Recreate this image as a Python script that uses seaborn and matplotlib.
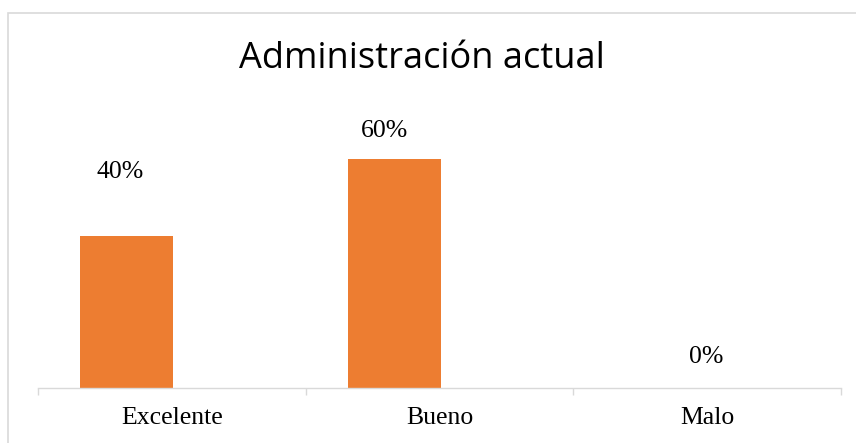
import matplotlib
matplotlib.use("Agg")
import matplotlib.pyplot as plt
import seaborn as sns
import pandas as pd
from matplotlib.patches import Rectangle

# ---- data ----
categories = ["Excelente", "Bueno", "Malo"]
values = [40, 60, 0]
value_labels = ["40%", "60%", "0%"]
title = "Administración actual"

# ---- style (label placement, as in the reference) ----
label_dx = [-0.193, -0.205, -0.005]
label_y = [55.0, 65.8, 6.55]
bar_shift = -0.168
bar_width = 0.347
bar_color = "#ED7D31"
grid_gray = "#D9D9D9"

sns.set_theme(style="white")
plt.rcParams["font.family"] = ["Liberation Serif", "DejaVu Sans"]

df = pd.DataFrame({"cat": categories, "val": values})

fig = plt.figure(figsize=(8.56, 4.43), dpi=100)
ax = fig.add_axes([38 / 856, 55 / 443, 803 / 856, 305 / 443])

sns.barplot(data=df, x="cat", y="val", color=bar_color, width=bar_width,
            saturation=1, ax=ax, edgecolor="none")
for p in ax.patches:
    p.set_x(p.get_x() + bar_shift)

ax.set_xlim(-0.5, 2.5)
ax.set_ylim(0, 80)
ax.set_xlabel("")
ax.set_ylabel("")
ax.set_yticks([])
for s in ["top", "right", "left"]:
    ax.spines[s].set_visible(False)
ax.spines["bottom"].set_color(grid_gray)
ax.spines["bottom"].set_linewidth(1.0)

ax.set_xticks(range(len(categories)))
ax.set_xticklabels(categories, fontsize=18.5, color="#000000")
ax.tick_params(axis="x", which="major", length=0, pad=14)
ax.set_xticks([-0.5, 0.5, 1.5, 2.5], minor=True)
ax.tick_params(axis="x", which="minor", length=5, width=1.0, color=grid_gray,
               direction="out", bottom=True)

for i, lab in enumerate(value_labels):
    ax.text(i + label_dx[i], label_y[i], lab, ha="center", va="baseline",
            fontsize=18.5, color="#000000")

fig.text(421.5 / 856, (443 - 68) / 443, title, ha="center", va="baseline",
         fontsize=26, family=["Open Sans", "DejaVu Sans"], color="#000000")

# chart frame (only top and left visible in the reference)
fig.patches.append(Rectangle((8 / 856, -0.2), 1.2, 1.2 + (443 - 12.5) / 443 - 1,
                             transform=fig.transFigure, fill=False,
                             edgecolor=grid_gray, linewidth=1.2, clip_on=False))

fig.savefig("out.png", dpi=100, facecolor="white")
